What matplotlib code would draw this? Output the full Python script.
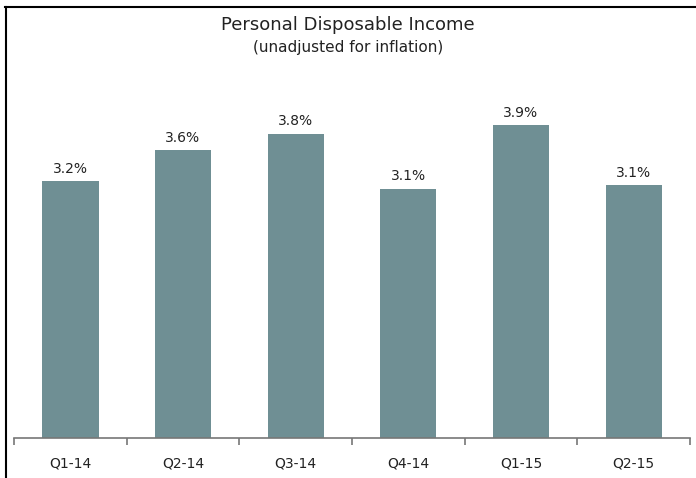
import numpy as np
import matplotlib
matplotlib.use("Agg")
import matplotlib.pyplot as plt
from matplotlib.lines import Line2D

quarters = ["Q1-14", "Q2-14", "Q3-14", "Q4-14", "Q1-15", "Q2-15"]
values = [3.2, 3.59, 3.79, 3.11, 3.9, 3.15]
labels = ["3.2%", "3.6%", "3.8%", "3.1%", "3.9%", "3.1%"]


def main():
    fig = plt.figure(figsize=(6.96, 4.78), dpi=100)
    ax = fig.add_axes([14 / 696, 1 - 438 / 478, 676 / 696, 401 / 478])

    x = np.arange(len(quarters))
    bars = ax.bar(x, values, width=0.5, color="#6f8f94")
    for b, lab in zip(bars, labels):
        ax.annotate(lab, (b.get_x() + b.get_width() / 2, b.get_height()),
                    xytext=(0, 4), textcoords="offset points",
                    ha="center", va="bottom", fontsize=10, color="#222222")

    ax.set_xlim(-0.5, len(quarters) - 0.5)
    ax.set_ylim(0, 5)
    ax.set_yticks([])
    for s in ["left", "right", "top"]:
        ax.spines[s].set_visible(False)
    ax.spines["bottom"].set_color("#777777")
    ax.spines["bottom"].set_linewidth(1.2)

    ax.set_xticks(np.arange(len(quarters) + 1) - 0.5)
    ax.set_xticklabels([])
    ax.tick_params(axis="x", which="major", length=5, width=1.2,
                   color="#777777", direction="out")
    ax.set_xticks(x, minor=True)
    ax.set_xticklabels(quarters, minor=True, fontsize=10, color="#222222")
    ax.tick_params(axis="x", which="minor", length=0, pad=13)

    fig.text(0.5, 1 - 25 / 478, "Personal Disposable Income",
             ha="center", va="center", fontsize=13, color="#222222")
    fig.text(0.5, 1 - 47 / 478, "(unadjusted for inflation)",
             ha="center", va="center", fontsize=11, color="#222222")

    # chart frame (left and top edges visible)
    fig.add_artist(Line2D([5.5 / 696, 5.5 / 696], [0, 1 - 7 / 478],
                          transform=fig.transFigure, color="black", lw=1.5))
    fig.add_artist(Line2D([5 / 696, 1], [1 - 7 / 478, 1 - 7 / 478],
                          transform=fig.transFigure, color="black", lw=1.5))

    fig.savefig("out.png", dpi=100)


if __name__ == '__main__':
    main()
